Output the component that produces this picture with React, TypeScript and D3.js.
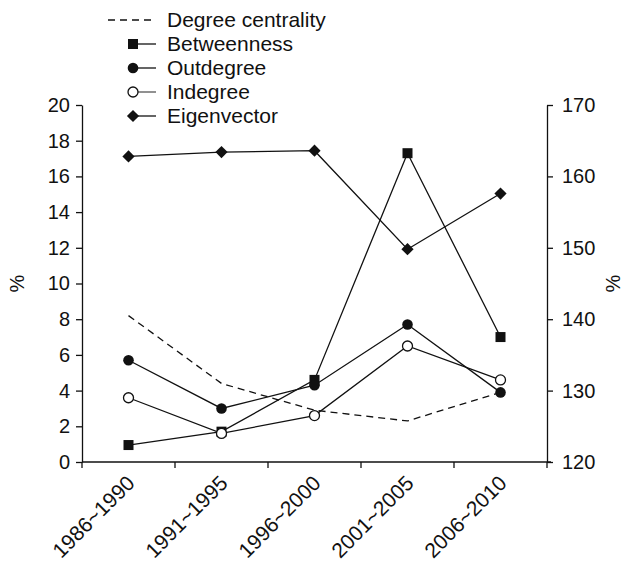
import React, { useRef, useEffect } from "react";
import * as d3 from "d3";

const periods = ["1986~1990", "1991~1995", "1996~2000", "2001~2005", "2006~2010"];
const degreeCentrality = [8.2, 4.4, 2.9, 2.3, 3.9];
const betweenness = [0.95, 1.7, 4.6, 17.3, 7.0];
const outdegree = [5.7, 3.0, 4.3, 7.7, 3.9];
const indegree = [3.6, 1.6, 2.6, 6.5, 4.6];
const eigenvector = [162.8, 163.4, 163.6, 149.8, 157.6];
const leftTicks = [0, 2, 4, 6, 8, 10, 12, 14, 16, 18, 20];
const rightTicks = [120, 130, 140, 150, 160, 170];
const legendNames = ["Degree centrality", "Betweenness", "Outdegree", "Indegree", "Eigenvector"];

type Marker = "none" | "square" | "dot" | "ring" | "diamond";

export default function App() {
  const svgRef = useRef<SVGSVGElement | null>(null);

  useEffect(() => {
    const width = 631;
    const height = 561;
    const margin = { top: 105, right: 84, bottom: 99, left: 82 };
    const font = "'Liberation Sans', Arial, Helvetica, sans-serif";

    const svg = d3.select(svgRef.current);
    svg.selectAll("*").remove();
    svg.attr("width", width).attr("height", height).attr("viewBox", `0 0 ${width} ${height}`);

    const x = d3
      .scaleBand<string>()
      .domain(periods)
      .range([margin.left, width - margin.right]);
    const yL = d3.scaleLinear().domain([0, 20]).range([height - margin.bottom, margin.top]);
    const yR = d3.scaleLinear().domain([120, 170]).range([height - margin.bottom, margin.top]);
    const cx = (i: number) => (x(periods[i]) as number) + x.bandwidth() / 2;

    // left axis
    const gl = svg
      .append("g")
      .attr("transform", `translate(${margin.left},0)`)
      .call(d3.axisLeft(yL).tickValues(leftTicks).tickSize(6).tickSizeOuter(0).tickPadding(6));
    gl.selectAll("text").attr("font-size", 20).attr("font-family", font).attr("fill", "#111");
    gl.selectAll("line,path").attr("stroke", "#111").attr("stroke-width", 1.3);

    // right axis
    const gr = svg
      .append("g")
      .attr("transform", `translate(${width - margin.right},0)`)
      .call(d3.axisRight(yR).tickValues(rightTicks).tickSize(6).tickSizeOuter(0).tickPadding(9));
    gr.selectAll("text").attr("font-size", 20).attr("font-family", font).attr("fill", "#111");
    gr.selectAll("line,path").attr("stroke", "#111").attr("stroke-width", 1.3);

    // bottom axis with ticks at category boundaries
    const y0 = height - margin.bottom;
    const bounds = periods.map(p => x(p) as number).concat(x.range()[1]);
    svg
      .append("line")
      .attr("x1", margin.left)
      .attr("x2", width - margin.right + 4)
      .attr("y1", y0)
      .attr("y2", y0)
      .attr("stroke", "#111")
      .attr("stroke-width", 1.3);
    svg
      .append("g")
      .selectAll("line")
      .data(bounds)
      .enter()
      .append("line")
      .attr("x1", d => d)
      .attr("x2", d => d)
      .attr("y1", y0)
      .attr("y2", y0 + 6)
      .attr("stroke", "#111")
      .attr("stroke-width", 1.3);
    svg
      .append("g")
      .selectAll("text")
      .data(periods)
      .enter()
      .append("text")
      .attr("transform", (d, i) => `translate(${cx(i) - 3},${y0 + 12}) rotate(-45)`)
      .attr("text-anchor", "end")
      .attr("dy", "0.7em")
      .attr("font-size", 21)
      .attr("font-family", font)
      .attr("fill", "#111")
      .text(d => d);

    // axis titles
    svg
      .append("text")
      .attr("transform", `translate(24,${(y0 + margin.top) / 2}) rotate(-90)`)
      .attr("text-anchor", "middle")
      .attr("font-size", 20)
      .attr("font-family", font)
      .attr("fill", "#111")
      .text("%");
    svg
      .append("text")
      .attr("transform", `translate(620,${(y0 + margin.top) / 2}) rotate(-90)`)
      .attr("text-anchor", "middle")
      .attr("font-size", 20)
      .attr("font-family", font)
      .attr("fill", "#111")
      .text("%");

    const drawMarker = (g: d3.Selection<SVGGElement, unknown, null, undefined>, kind: Marker, px: number, py: number) => {
      if (kind === "square") {
        g.append("rect").attr("x", px - 5).attr("y", py - 5).attr("width", 10).attr("height", 10).attr("fill", "#111");
      } else if (kind === "dot") {
        g.append("circle").attr("cx", px).attr("cy", py).attr("r", 5.3).attr("fill", "#111");
      } else if (kind === "ring") {
        g.append("circle")
          .attr("cx", px)
          .attr("cy", py)
          .attr("r", 5)
          .attr("fill", "#fff")
          .attr("stroke", "#111")
          .attr("stroke-width", 1.3);
      } else if (kind === "diamond") {
        g.append("path")
          .attr("d", d3.symbol().type(d3.symbolDiamond2).size(95)())
          .attr("transform", `translate(${px},${py})`)
          .attr("fill", "#111");
      }
    };

    const series: { values: number[]; scale: d3.ScaleLinear<number, number>; marker: Marker; dash: string }[] = [
      { values: degreeCentrality, scale: yL, marker: "none", dash: "7,5" },
      { values: betweenness, scale: yL, marker: "square", dash: "" },
      { values: outdegree, scale: yL, marker: "dot", dash: "" },
      { values: indegree, scale: yL, marker: "ring", dash: "" },
      { values: eigenvector, scale: yR, marker: "diamond", dash: "" },
    ];

    const plot = svg.append("g");
    series.forEach(s => {
      const line = d3
        .line<number>()
        .x((d, i) => cx(i))
        .y(d => s.scale(d));
      plot
        .append("path")
        .datum(s.values)
        .attr("fill", "none")
        .attr("stroke", "#111")
        .attr("stroke-width", 1.3)
        .attr("stroke-dasharray", s.dash || null)
        .attr("d", line);
    });
    series.forEach(s => {
      const mg = plot.append("g");
      s.values.forEach((v, i) => drawMarker(mg, s.marker, cx(i), s.scale(v)));
    });

    // legend
    const legend = svg.append("g");
    legendNames.forEach((name, i) => {
      const ly = 20 + i * 24;
      const s = series[i];
      legend
        .append("line")
        .attr("x1", s.dash ? 108 : 128)
        .attr("x2", 156)
        .attr("y1", ly)
        .attr("y2", ly)
        .attr("stroke", i === 3 ? "#555" : "#111")
        .attr("stroke-width", 1.3)
        .attr("stroke-dasharray", s.dash || null);
      drawMarker(legend as any, s.marker, 133, ly);
      legend
        .append("text")
        .attr("x", 167)
        .attr("y", ly)
        .attr("dy", "0.35em")
        .attr("font-size", 21)
        .attr("font-family", font)
        .attr("fill", "#111")
        .text(name);
    });
  }, []);

  return (
    <div style={{ position: "absolute", left: 0, top: 0, background: "#fff" }}>
      <svg ref={svgRef}></svg>
    </div>
  );
}
